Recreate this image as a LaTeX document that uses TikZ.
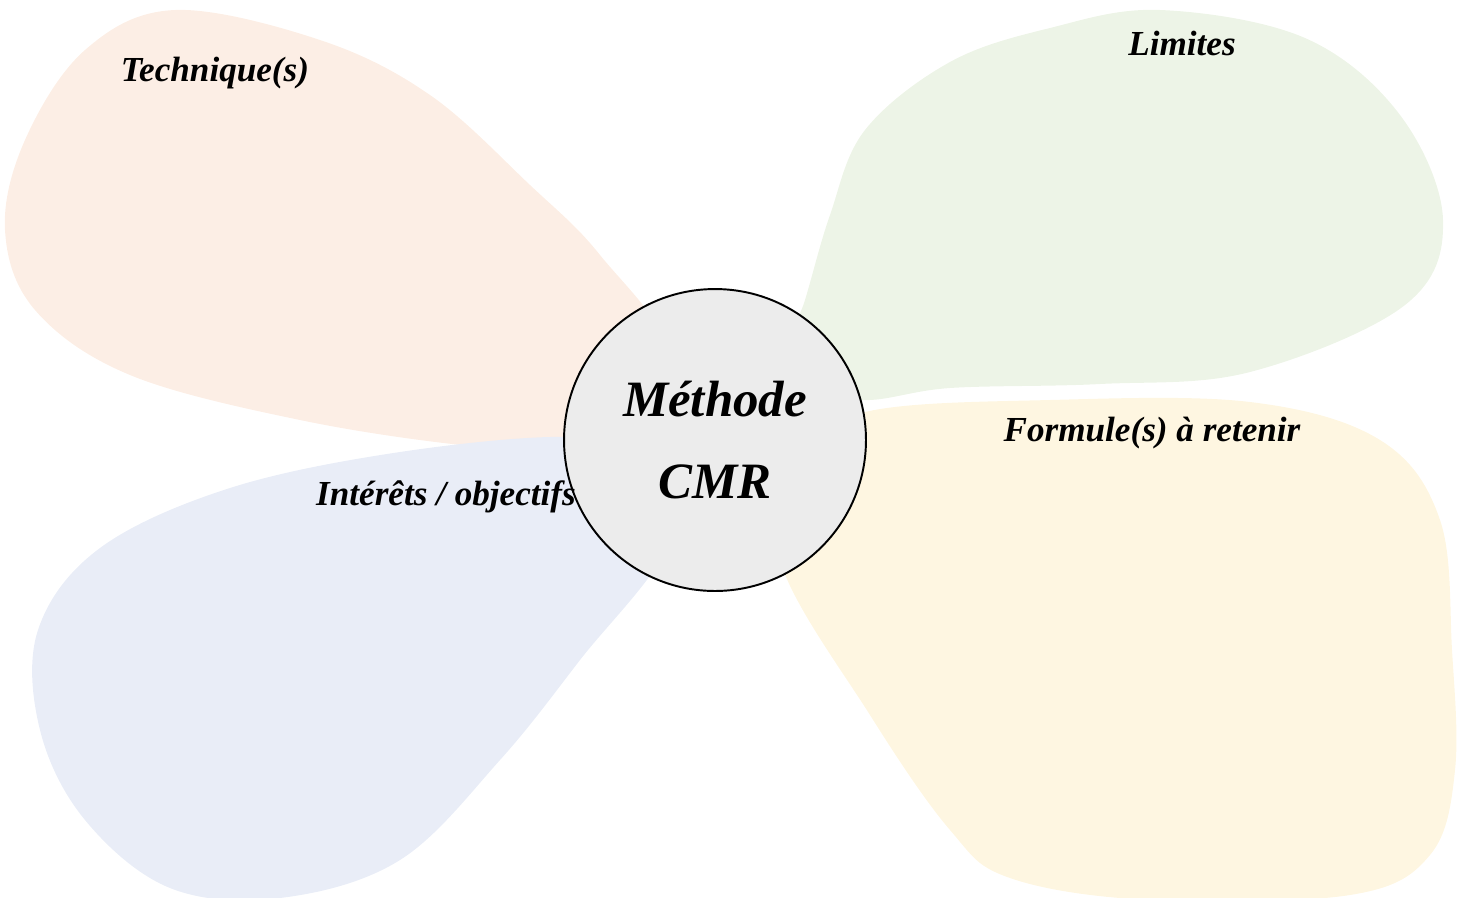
\documentclass[tikz,border=0pt]{standalone}
\usepackage{fontspec}
\setmainfont{Liberation Serif}
\definecolor{myPeach}{HTML}{FCEEE5}
\definecolor{myGreen}{HTML}{EDF4E7}
\definecolor{myBlue}{HTML}{E9EDF7}
\definecolor{myYellow}{HTML}{FEF6E1}
\definecolor{myGray}{HTML}{ECECEC}

\begin{document}
\begin{tikzpicture}[x=0.02cm, y=-0.02cm]
	\tikzset{Titel/.style = {font=\bfseries\itshape\fontsize{20}{24}\selectfont}}
	\tikzset{Mitte/.style = {circle, draw, line width=1.1pt, fill=myGray, minimum size=6.04cm,
		align=center, font=\bfseries\itshape\fontsize{29}{47}\selectfont}}
	\tikzset{Blase/.style = {smooth cycle, tension=0.6}}
	\useasboundingbox (0,0) rectangle (1467,897);
	
	% Blasen
	\fill[myPeach] plot[Blase] coordinates {(175,10) (320,40) (430,95) (530,185) (600,255)
		(670,360) (600,452) (470,446) (300,420) (130,375) (35,310) (5,230) (25,140) (85,50)};
	\fill[myGreen] plot[Blase] coordinates {(1160,10) (1305,38) (1400,115) (1443,220) (1405,305)
		(1250,372) (1100,384) (950,388) (860,400) (780,380) (805,300) (830,215) (865,130) (950,62) (1050,28)};
	\fill[myYellow] plot[Blase] coordinates {(865,412) (1050,400) (1250,402) (1380,440) (1440,520)
		(1452,650) (1455,770) (1430,855) (1350,895) (1150,900) (1010,878) (950,830) (870,715) (780,560) (800,460)};
	\fill[myBlue] plot[Blase] coordinates {(570,437) (400,452) (230,488) (100,548) (38,630)
		(40,730) (85,820) (170,888) (280,898) (400,860) (500,760) (580,660) (670,540) (640,460)};
	
	% Knoten
	\node[Mitte] (cmr) at (715,440) {Méthode\\CMR};
	\node[Titel] (technik) at (215,73) {Technique(s)};
	\node[Titel] (limites) at (1182,43) {Limites};
	\node[Titel] (formule) at (1152,433) {Formule(s) à retenir};
	\node[Titel] (interet) at (446,497) {Intérêts / objectifs};
\end{tikzpicture}
\end{document}
